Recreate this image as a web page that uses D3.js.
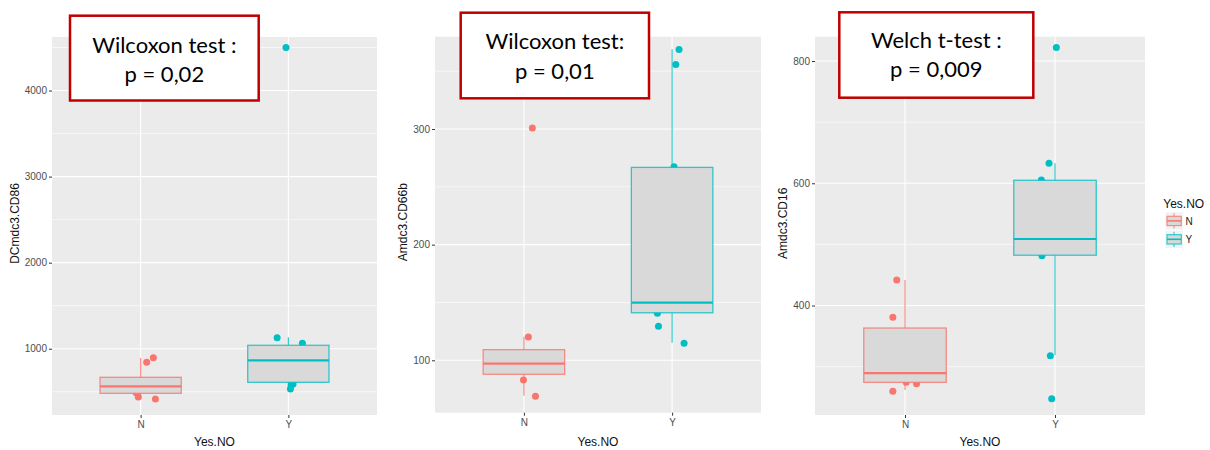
<!DOCTYPE html>
<html><head><meta charset="utf-8">
<script src="https://cdn.jsdelivr.net/npm/d3@7"></script>
<style>body{margin:0;background:#fff}svg{display:block}</style>
</head><body>
<svg id="c" width="1210" height="450"></svg>
<script>
// ---------- data ----------
const categories = ["N", "Y"];
const groupColors = ["#F8766D", "#00BFC4"];
const legendTitle = "Yes.NO";

// Panel 1 : DCmdc3.CD86
const cd86_N = [416, 439, 489, 842, 895];
const cd86_N_jit = [0.10, -0.016, -0.03, 0.041, 0.086];
const cd86_Y = [4500, 1128, 1063, 590, 578, 532];
const cd86_Y_jit = [-0.016, -0.076, 0.095, 0.032, 0.020, 0.014];
const cd86_low = [416, 532], cd86_q1 = [482, 610], cd86_med = [563, 865], cd86_q3 = [668, 1040], cd86_high = [892, 1132];
const cd86_ticks = [1000, 2000, 3000, 4000];
const cd86_minor = [500, 1500, 2500, 3500, 4500];

// Panel 2 : Amdc3.CD66b
const cd66_N = [300.8, 120.1, 83, 68.9];
const cd66_N_jit = [0.057, 0.03, -0.003, 0.078];
const cd66_Y = [368.8, 355.8, 267.3, 140.6, 129.4, 114.7];
const cd66_Y_jit = [0.047, 0.025, 0.013, -0.099, -0.092, 0.081];
const cd66_low = [69.4, 115.2], cd66_q1 = [87.9, 141.1], cd66_med = [97.1, 149.8], cd66_q3 = [109.2, 266.8], cd66_high = [120.4, 369];
const cd66_ticks = [100, 200, 300];
const cd66_minor = [150, 250, 350];

// Panel 3 : Amdc3.CD16
const cd16_N = [441.7, 380.7, 274.3, 272, 259.6];
const cd16_N_jit = [-0.055, -0.081, 0.008, 0.077, -0.081];
const cd16_Y = [822, 632.7, 605.4, 481.5, 317.8, 247.5];
const cd16_Y_jit = [0.009, -0.04, -0.091, -0.087, -0.031, -0.022];
const cd16_low = [261.7, 319], cd16_q1 = [274.3, 482.3], cd16_med = [289.5, 508.8], cd16_q3 = [363.2, 604.9], cd16_high = [441.7, 632.7];
const cd16_ticks = [400, 600, 800];
const cd16_minor = [300, 500, 700];

const yTitles = ["DCmdc3.CD86", "Amdc3.CD66b", "Amdc3.CD16"];
const testLine1 = ["Wilcoxon test :", "Wilcoxon test:", "Welch t-test :"];
const testLine2 = ["p = 0,02", "p = 0,01", "p = 0,009"];
const xTitle = "Yes.NO";

// ---------- layout ----------
const panels = [
  {x0: 52, x1: 377, y0: 37, y1: 415, dom: [230, 4622], N: cd86_N, Nj: cd86_N_jit, Y: cd86_Y, Yj: cd86_Y_jit,
   low: cd86_low, q1: cd86_q1, med: cd86_med, q3: cd86_q3, high: cd86_high, ticks: cd86_ticks, minor: cd86_minor,
   yt: 14.5, box: [70, 15.7, 258.7, 100.5], tb: [52.7, 81.7]},
  {x0: 435, x1: 761, y0: 36.7, y1: 412.7, dom: [54.7, 379.8], N: cd66_N, Nj: cd66_N_jit, Y: cd66_Y, Yj: cd66_Y_jit,
   low: cd66_low, q1: cd66_q1, med: cd66_med, q3: cd66_q3, high: cd66_high, ticks: cd66_ticks, minor: cd66_minor,
   yt: 403, box: [460.7, 12.7, 649, 98.3], tb: [49.3, 79]},
  {x0: 815, x1: 1145, y0: 36.7, y1: 415, dom: [220.9, 839.8], N: cd16_N, Nj: cd16_N_jit, Y: cd16_Y, Yj: cd16_Y_jit,
   low: cd16_low, q1: cd16_q1, med: cd16_med, q3: cd16_q3, high: cd16_high, ticks: cd16_ticks, minor: cd16_minor,
   yt: 783.3, box: [839.3, 12.3, 1033.3, 97.7], tb: [48.3, 77.3]}
];

const svg = d3.select("#c");
const sans = "'Liberation Sans', Arial, sans-serif";
const boxW = 0.55;

panels.forEach((p, i) => {
  const x = d3.scaleLinear().domain([0.4, 2.6]).range([p.x0, p.x1]);
  const y = d3.scaleLinear().domain(p.dom).range([p.y1, p.y0]);
  const g = svg.append("g");

  g.append("rect").attr("x", p.x0).attr("y", p.y0).attr("width", p.x1 - p.x0).attr("height", p.y1 - p.y0).attr("fill", "#EBEBEB");
  // minor grid
  g.selectAll(".mn").data(p.minor).enter().append("line")
    .attr("x1", p.x0).attr("x2", p.x1).attr("y1", d => y(d)).attr("y2", d => y(d))
    .attr("stroke", "#fff").attr("stroke-width", 0.6);
  // major grid
  g.selectAll(".mj").data(p.ticks).enter().append("line")
    .attr("x1", p.x0).attr("x2", p.x1).attr("y1", d => y(d)).attr("y2", d => y(d))
    .attr("stroke", "#fff").attr("stroke-width", 1.1);
  g.selectAll(".vx").data(categories).enter().append("line")
    .attr("x1", (d, k) => x(k + 1)).attr("x2", (d, k) => x(k + 1)).attr("y1", p.y0).attr("y2", p.y1)
    .attr("stroke", "#fff").attr("stroke-width", 1.1);

  // points (drawn beneath boxes)
  [[p.N, p.Nj], [p.Y, p.Yj]].forEach(([vals, jit], k) => {
    g.selectAll(null).data(vals).enter().append("circle")
      .attr("cx", (d, j) => x(k + 1 + jit[j])).attr("cy", d => y(d)).attr("r", 3.5)
      .attr("fill", groupColors[k]);
  });

  // boxplots
  categories.forEach((c, k) => {
    const cx = x(k + 1), col = groupColors[k];
    const bx0 = x(k + 1 - boxW / 2), bx1 = x(k + 1 + boxW / 2);
    g.append("line").attr("x1", cx).attr("x2", cx).attr("y1", y(p.q3[k])).attr("y2", y(p.high[k]))
      .attr("stroke", col).attr("stroke-width", 1.2).attr("stroke-opacity", 0.8);
    g.append("line").attr("x1", cx).attr("x2", cx).attr("y1", y(p.q1[k])).attr("y2", y(p.low[k]))
      .attr("stroke", col).attr("stroke-width", 1.2).attr("stroke-opacity", 0.8);
    g.append("rect").attr("x", bx0).attr("y", y(p.q3[k])).attr("width", bx1 - bx0).attr("height", y(p.q1[k]) - y(p.q3[k]))
      .attr("fill", "#D9D9D9").attr("stroke", col).attr("stroke-width", 1.3).attr("stroke-opacity", 0.8);
    g.append("line").attr("x1", bx0).attr("x2", bx1).attr("y1", y(p.med[k])).attr("y2", y(p.med[k]))
      .attr("stroke", col).attr("stroke-width", 2.2);
  });

  // y axis
  const ya = g.append("g").attr("transform", `translate(${p.x0},0)`)
    .call(d3.axisLeft(y).tickValues(p.ticks).tickSize(3).tickPadding(2).tickFormat(d3.format("d")));
  ya.select(".domain").remove();
  ya.selectAll("line").attr("stroke", "#333");
  ya.selectAll("text").attr("fill", "#4D4D4D").style("font-family", sans).style("font-size", "10px");
  // x axis
  const xa = g.append("g").attr("transform", `translate(0,${p.y1})`)
    .call(d3.axisBottom(x).tickValues([1, 2]).tickSize(3).tickPadding(3).tickFormat((d) => categories[d - 1]));
  xa.select(".domain").remove();
  xa.selectAll("line").attr("stroke", "#333");
  xa.selectAll("text").attr("fill", "#4D4D4D").style("font-family", sans).style("font-size", "10px");

  // titles
  g.append("text").attr("x", (p.x0 + p.x1) / 2).attr("y", 445.5).attr("text-anchor", "middle")
    .style("font-family", sans).style("font-size", "12px").attr("fill", "#111").text(xTitle);
  g.append("text").attr("transform", `translate(${p.yt},${(p.y0 + p.y1) / 2 - 2.5}) rotate(-90)`)
    .attr("text-anchor", "middle").attr("dominant-baseline", "central")
    .style("font-family", sans).style("font-size", "12px").attr("fill", "#111").text(yTitles[i]);

  // annotation box
  const b = p.box;
  g.append("rect").attr("x", b[0]).attr("y", b[1]).attr("width", b[2] - b[0]).attr("height", b[3] - b[1])
    .attr("fill", "#fff").attr("stroke", "#C00000").attr("stroke-width", 2.5);
  [testLine1[i], testLine2[i]].forEach((t, j) => {
    g.append("text").attr("x", (b[0] + b[2]) / 2).attr("y", p.tb[j]).attr("text-anchor", "middle")
      .style("font-family", "Lato, 'Open Sans', sans-serif").style("font-size", "22px").attr("fill", "#000").text(t);
  });
});

// legend
const lg = svg.append("g");
lg.append("text").attr("x", 1163.3).attr("y", 208).style("font-family", sans).style("font-size", "12px").attr("fill", "#111").text(legendTitle);
categories.forEach((c, k) => {
  const ky = 212.3 + k * 18.4;
  lg.append("rect").attr("x", 1165.5).attr("y", ky).attr("width", 17.3).attr("height", 17.3).attr("fill", "#F2F2F2");
  const cx = 1174;
  lg.append("line").attr("x1", cx).attr("x2", cx).attr("y1", ky + 1).attr("y2", ky + 16.3).attr("stroke", groupColors[k]).attr("stroke-width", 1.1).attr("stroke-opacity", 0.8);
  lg.append("rect").attr("x", 1167).attr("y", ky + 4).attr("width", 14.3).attr("height", 9.3)
    .attr("fill", "#D9D9D9").attr("stroke", groupColors[k]).attr("stroke-width", 1.2).attr("stroke-opacity", 0.8);
  lg.append("line").attr("x1", 1167).attr("x2", 1181.3).attr("y1", ky + 8.6).attr("y2", ky + 8.6).attr("stroke", groupColors[k]).attr("stroke-width", 1.6);
  lg.append("text").attr("x", 1185.5).attr("y", ky + 8.8).attr("dominant-baseline", "central")
    .style("font-family", sans).style("font-size", "10px").attr("fill", "#222").text(c);
});
</script>
</body></html>
